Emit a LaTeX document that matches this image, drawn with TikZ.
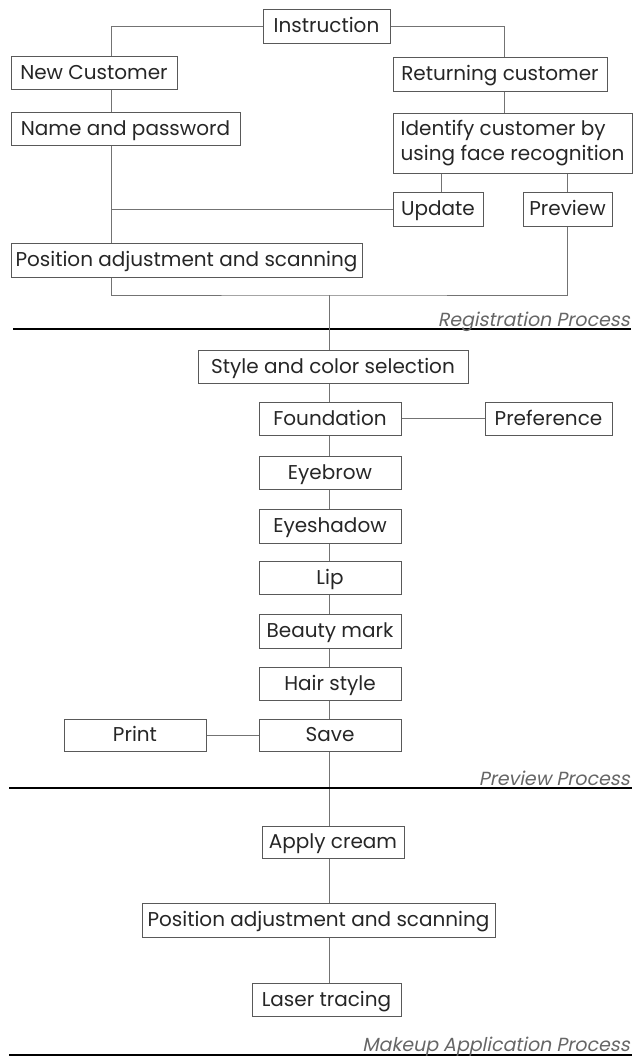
\documentclass[tikz,border=0pt]{standalone}
\usepackage{fontspec}
\setmainfont{Poppins}
\newfontfamily\phasefont[FakeSlant=0.2]{Poppins}
\usetikzlibrary{positioning}

\begin{document}
\begin{tikzpicture}[x=1pt,y=-1pt,
  box/.style={draw=black!65,line width=1pt,inner sep=0pt,text=black!85,
    text height=14,text depth=1,font=\fontsize{20}{25}\selectfont},
  link/.style={draw=black!55,line width=0.9pt},
  divider/.style={draw=black,line width=2.6pt},
  phase/.style={anchor=base east,inner sep=0pt,text=black!60,
    font=\phasefont\fontsize{19}{21}\selectfont}]
\useasboundingbox (0,0) rectangle (634,1058);
% trunk positions
\coordinate (lx) at (111,0);
\coordinate (rx) at (504,0);
\coordinate (ux) at (441,0);
\coordinate (mx) at (329,0);
\coordinate (jn) at (329,295);

% registration
\node[box,minimum width=127,minimum height=34] (instr) at (326.5,26) {Instruction};
\node[box,minimum width=166,minimum height=33] (newc) at (94,72.5) {New Customer};
\node[box,minimum width=214,minimum height=34] (retc) at (500,74) {Returning customer};
\node[box,minimum width=229,minimum height=33] (name) at (125.5,128.5) {Name and password};
\node[box,minimum width=239,minimum height=60,align=left,text height=,text depth=] (ident) at (512.5,143)
  {Identify customer by\\using face recognition};
\node[box,minimum width=90,minimum height=34] (upd) at (438,209) {Update};
\node[box,minimum width=89,minimum height=34] (prev) at (567.5,209) {Preview};
\node[box,minimum width=351,minimum height=34] (posa) at (186.5,260) {Position adjustment and scanning};

\draw[link] (instr.west) -| (newc.north -| lx);
\draw[link] (instr.east) -| (retc.north -| rx);
\draw[link] (newc.south -| lx) -- (name.north -| lx);
\draw[link] (name.south -| lx) -- (posa.north -| lx);
\draw[link] (lx |- upd.west) -- (upd.west);
\draw[link] (retc.south -| rx) -- (ident.north -| rx);
\draw[link] (ident.south -| ux) -- (upd.north -| ux);
\draw[link] (ident.south -| prev.north) -- (prev.north);
\draw[link] (posa.south -| lx) |- (jn) -| (prev.south);

\draw[divider] (13,329) -- (631,329);
\node[phase] (lreg) at (630,326) {Registration Process};

% preview
\node[box,minimum width=270,minimum height=33] (style) at (333,366.5) {Style and color selection};
\node[box,minimum width=142,minimum height=33] (found) at (330,418.5) {Foundation};
\node[box,minimum width=127,minimum height=33] (pref) at (548.5,418.5) {Preference};
\node[box,minimum width=142,minimum height=33] (brow) at (330,472.5) {Eyebrow};
\node[box,minimum width=142,minimum height=34] (shadow) at (330,526) {Eyeshadow};
\node[box,minimum width=142,minimum height=33] (lip) at (330,577.5) {Lip};
\node[box,minimum width=142,minimum height=34] (mark) at (330,631) {Beauty mark};
\node[box,minimum width=142,minimum height=33] (hair) at (330,683.5) {Hair style};
\node[box,minimum width=142,minimum height=32] (save) at (330,735) {Save};
\node[box,minimum width=142,minimum height=32] (print) at (135,735) {Print};

\draw[link] (jn) -- (style.north -| mx);
\draw[link] (style.south -| mx) -- (found.north -| mx);
\draw[link] (found.south -| mx) -- (brow.north -| mx);
\draw[link] (brow.south -| mx) -- (shadow.north -| mx);
\draw[link] (shadow.south -| mx) -- (lip.north -| mx);
\draw[link] (lip.south -| mx) -- (mark.north -| mx);
\draw[link] (mark.south -| mx) -- (hair.north -| mx);
\draw[link] (hair.south -| mx) -- (save.north -| mx);
\draw[link] (found.east) -- (pref.west);
\draw[link] (save.west) -- (print.east);

% makeup application
\node[box,minimum width=142,minimum height=32] (cream) at (333,842) {Apply cream};
\node[box,minimum width=353,minimum height=34] (posb) at (318.5,920) {Position adjustment and scanning};
\node[box,minimum width=149,minimum height=33] (laser) at (326.5,999.5) {Laser tracing};

\draw[link] (save.south -| mx) -- (cream.north -| mx);
\draw[link] (cream.south -| mx) -- (posb.north -| mx);
\draw[link] (posb.south -| mx) -- (laser.north -| mx);

\draw[divider] (9,788) -- (632,788);
\node[phase] (lprev) at (630,785) {Preview Process};
\draw[divider] (9,1055) -- (632,1055);
\node[phase] (lmake) at (630,1051) {Makeup Application Process};
\end{tikzpicture}
\end{document}
